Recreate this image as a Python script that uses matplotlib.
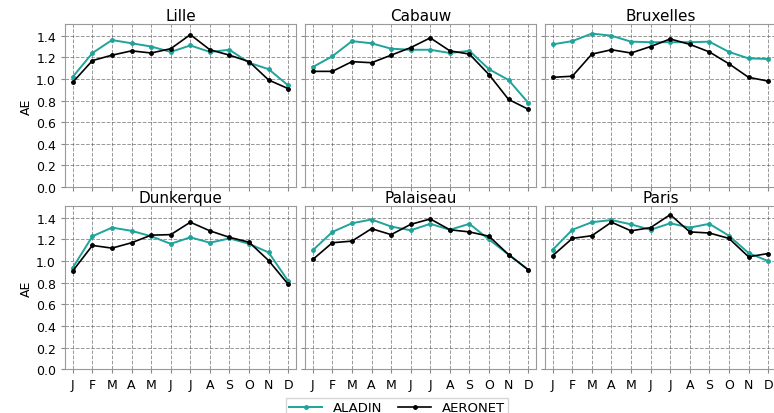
import matplotlib.pyplot as plt

months = ["J", "F", "M", "A", "M", "J", "J", "A", "S", "O", "N", "D"]
stations = ["Lille", "Cabauw", "Bruxelles", "Dunkerque", "Palaiseau", "Paris"]

aladin_lille = [1.02, 1.24, 1.36, 1.33, 1.30, 1.25, 1.31, 1.25, 1.27, 1.15, 1.09, 0.94]
aeronet_lille = [0.97, 1.17, 1.22, 1.26, 1.24, 1.28, 1.41, 1.27, 1.22, 1.16, 0.99, 0.91]

aladin_cabauw = [1.11, 1.21, 1.35, 1.33, 1.28, 1.27, 1.27, 1.24, 1.26, 1.09, 0.99, 0.78]
aeronet_cabauw = [1.07, 1.07, 1.16, 1.15, 1.22, 1.29, 1.38, 1.26, 1.23, 1.04, 0.81, 0.72]

aladin_bruxelles = [1.32, 1.35, 1.42, 1.40, 1.345, 1.34, 1.34, 1.34, 1.345, 1.25, 1.19, 1.185]
aeronet_bruxelles = [1.015, 1.025, 1.23, 1.27, 1.24, 1.30, 1.37, 1.32, 1.25, 1.14, 1.015, 0.98]

aladin_dunkerque = [0.94, 1.23, 1.31, 1.28, 1.23, 1.16, 1.22, 1.17, 1.21, 1.16, 1.08, 0.815]
aeronet_dunkerque = [0.91, 1.145, 1.12, 1.17, 1.24, 1.245, 1.36, 1.28, 1.22, 1.175, 1.005, 0.785]

aladin_palaiseau = [1.10, 1.27, 1.35, 1.385, 1.32, 1.285, 1.345, 1.29, 1.345, 1.20, 1.06, 0.92]
aeronet_palaiseau = [1.015, 1.17, 1.185, 1.30, 1.245, 1.34, 1.39, 1.29, 1.27, 1.23, 1.06, 0.92]

aladin_paris = [1.105, 1.29, 1.36, 1.38, 1.34, 1.29, 1.35, 1.31, 1.345, 1.235, 1.075, 1.00]
aeronet_paris = [1.05, 1.21, 1.235, 1.36, 1.28, 1.31, 1.43, 1.27, 1.26, 1.21, 1.04, 1.07]

aladin = [aladin_lille, aladin_cabauw, aladin_bruxelles,
          aladin_dunkerque, aladin_palaiseau, aladin_paris]
aeronet = [aeronet_lille, aeronet_cabauw, aeronet_bruxelles,
           aeronet_dunkerque, aeronet_palaiseau, aeronet_paris]

teal = "#20a39b"

fig = plt.figure(figsize=(7.74, 4.14), dpi=100)

lefts = [0.084, 0.394, 0.704]
bottoms = [0.546, 0.106]
w, h = 0.2985, 0.394

x = list(range(12))
handles = None
for i, name in enumerate(stations):
    row, col = divmod(i, 3)
    ax = fig.add_axes([lefts[col], bottoms[row], w, h])
    l1, = ax.plot(x, aladin[i], color=teal, marker="o", markersize=2.5,
                  linewidth=1.4, label="ALADIN")
    l2, = ax.plot(x, aeronet[i], color="black", marker="o", markersize=2.5,
                  linewidth=1.2, label="AERONET")
    handles = [l1, l2]
    ax.set_xlim(-0.4, 11.4)
    ax.set_ylim(0, 1.51)
    ax.set_yticks([0.0, 0.2, 0.4, 0.6, 0.8, 1.0, 1.2, 1.4])
    ax.set_xticks(x)
    ax.grid(True, linestyle="--", color="#555555", linewidth=0.7, alpha=0.6)
    ax.set_title(name, fontsize=11, pad=3)
    for s in ax.spines.values():
        s.set_color("#999999")
    ax.tick_params(labelsize=9, length=3, color="#888888")
    if row == 1:
        ax.set_xticklabels(months)
    else:
        ax.set_xticklabels([])
    if col == 0:
        ax.set_ylabel("AE", fontsize=9, labelpad=2)
    else:
        ax.set_yticklabels([])

fig.legend(handles=handles, loc="upper center", bbox_to_anchor=(0.513, 0.052),
           ncol=2, fontsize=9.5, frameon=True, fancybox=False,
           edgecolor="#cccccc", handlelength=2.5, borderpad=0.25,
           columnspacing=1.2)

fig.savefig("out.png", dpi=100)
